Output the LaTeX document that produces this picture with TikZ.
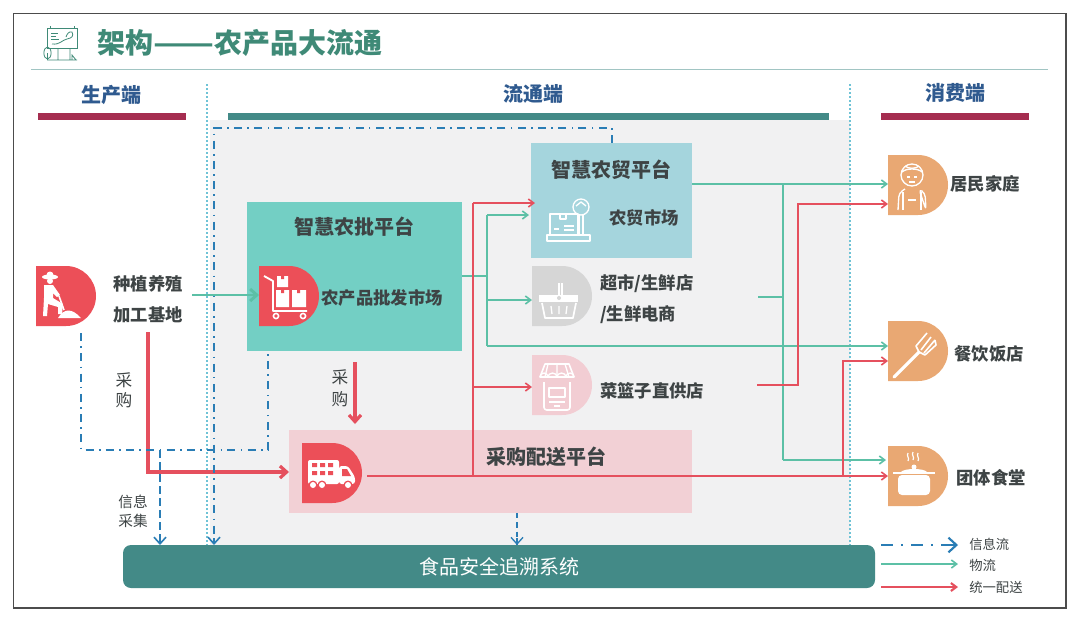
\documentclass[tikz,border=0pt]{standalone}
\usepackage{fontspec}
\usepackage{graphicx}
\setmainfont{Noto Sans CJK SC}
\usetikzlibrary{arrows.meta,fit,calc}
\definecolor{teal1}{HTML}{438A87}
\definecolor{titlec}{HTML}{3F8A77}
\definecolor{wine}{HTML}{A52D50}
\definecolor{navy}{HTML}{2F5A8F}
\definecolor{mint}{HTML}{5CC0A6}
\definecolor{redl}{HTML}{E5505E}
\definecolor{bluel}{HTML}{2A7DB5}
\definecolor{dot}{HTML}{6FC3D6}
\definecolor{redD}{HTML}{EC4F58}
\definecolor{orangeD}{HTML}{E9A873}
\definecolor{greyD}{HTML}{D6D6D6}
\definecolor{pinkD}{HTML}{F2CDD3}
\definecolor{txt}{HTML}{3E4445}
\definecolor{tradec}{HTML}{A5D5DD}
\definecolor{wholec}{HTML}{73CFC4}
\definecolor{distc}{HTML}{F2D0D5}
\definecolor{band}{HTML}{F1F1F2}
\tikzset{
  areabox/.style={inner sep=0pt,outer sep=0pt,draw=none},
  lbl/.style={text=txt,font=\fontsize{13pt}{15pt}\selectfont\bfseries,inner sep=0pt},
  lblL/.style={lbl,anchor=west},
  head/.style={lbl,font=\fontsize{15pt}{17pt}\selectfont\bfseries},
  sec/.style={text=navy,font=\fontsize{15pt}{17pt}\selectfont\bfseries,inner sep=0pt},
  plain/.style={text=txt,font=\fontsize{12.5pt}{14pt}\selectfont,inner sep=0pt},
  small/.style={text=txt,font=\fontsize{11pt}{13pt}\selectfont,inner sep=0pt},
  tiny/.style={text=txt,font=\fontsize{10pt}{12pt}\selectfont,inner sep=0pt,anchor=west},
  tipg/.style={-{Straight Barb[length=4pt,width=6pt]}},
  greenl/.style={draw=mint,line width=1.2pt},
  greenarrow/.style={greenl,tipg},
  redline/.style={draw=redl,line width=1.2pt},
  redarrow/.style={redline,tipg},
  redthick/.style={draw=redl,line width=2.4pt,-{Straight Barb[length=5pt,width=9pt]}},
  infoflow/.style={draw=bluel,line width=1.2pt,dash pattern=on 6pt off 4pt on 1.2pt off 4pt},
  infodash/.style={draw=bluel,line width=1.2pt,dash pattern=on 6pt off 3pt},
  infotip/.style={-{Straight Barb[length=5pt,width=9pt]}},
  divider/.style={draw=dot,line width=.8pt,dash pattern=on 1.5pt off 1.5pt},
  ico/.style={draw=white,line width=1pt,fill=none,line join=round},
}
\newcommand{\dsh}[4]{% name, x, y, colour
  \path[fill=#4] (#2,#3) -- ++(30,0) arc[start angle=-90,end angle=90,radius=30] -- ++(-30,0) -- cycle;
  \node[areabox,fit={(#2,#3)(#2+60,#3+60)}] (#1) {};
}
\begin{document}
\begin{tikzpicture}[x=0.75pt,y=-0.75pt]
\useasboundingbox (0,0) rectangle (1080,622);
\fill[white] (0,0) rectangle (1080,622);
\draw[draw=black!70,line width=.9pt] (13.5,13.5) rectangle (1066,608);
% title
\node[anchor=west,inner sep=0pt,text=titlec,font=\fontsize{21pt}{24pt}\selectfont\bfseries] (title) at (97,43) {架构\scalebox{1.27}[1]{——}农产品大流通};
\draw[draw=teal1!50,line width=.9pt] (31,69.5) -- (1048,69.5);
\draw[titlec,line width=.6pt] (47,28) rectangle (77,48);
\draw[titlec,line width=.6pt] (51,33) -- (58,33) (51,36) -- (56,36) (51,39) -- (59,39);
\draw[titlec,line width=.6pt] (52,44) .. controls (60,45) and (62,40) .. (67,39) .. controls (72,38) and (74,36) .. (72,32) .. controls (69,31) and (67,34) .. (66,37);
\draw[titlec,line width=.6pt] (50,28) -- (50,25.5) (74,28) -- (74,25.5);
\draw[titlec,line width=.6pt] (47,60) -- (77,60) (58,48) -- (58,60) (70,48) -- (70,60) (72,60) -- (72,55) -- (76,60);
\draw[titlec,line width=.6pt] (47.5,53) ellipse [x radius=3.6,y radius=6];
\draw[titlec,line width=.6pt] (47.5,53) -- (47.5,60);
% grey band
\fill[band] (210,120) rectangle (850,545);
% section headers
\node[sec] (hprod) at (111,95) {生产端};
\node[sec] (hcirc) at (533,94) {流通端};
\node[sec] (hcons) at (955,93) {消费端};
\fill[wine] (38,113) rectangle (186,119.5);
\fill[teal1] (228,113) rectangle (829,119.5);
\fill[wine] (881,113) rectangle (1029,119.5);
\coordinate (div1a) at (207,84); \coordinate (div1b) at (207,545);
\coordinate (div2a) at (850,84); \coordinate (div2b) at (850,545);
\draw[divider] (div1a) -- (div1b);
\draw[divider] (div2a) -- (div2b);
% boxes
\node[areabox,fill=distc,fit={(289,430)(692,513)}] (dist) {};
\node[areabox,fill=tradec,fit={(531,143)(692,258)}] (trade) {};
\node[areabox,fill=wholec,fit={(247,202)(462,351)}] (whole) {};
\node[areabox,fill=teal1,rounded corners=6pt,fit={(123,545)(875,588)}] (trace) {};
\node[inner sep=0pt,text=white,font=\fontsize{15pt}{17pt}\selectfont] (tracet) at (499,567) {食品安全追溯系统};
% D shapes
\dsh{farmer}{36}{266}{redD}
\dsh{cart}{259}{266}{redD}
\dsh{basket}{532}{266}{greyD}
\dsh{shop}{532}{355}{pinkD}
\dsh{truck}{302}{443}{redD}
\dsh{home}{888}{155}{orangeD}
\dsh{rest}{888}{321}{orangeD}
\dsh{canteen}{888}{446}{orangeD}
% farmer icon
\begin{scope}[shift={(36,266)}]
  \fill[white] (14,11) ellipse [x radius=8,y radius=2.5];
  \fill[white] (14,9) circle (3.5);
  \fill[white] (14,15) circle (3);
  \fill[white] (8,19) -- (17,19) -- (24,29) -- (21,31) -- (17,27) -- (17,32) -- (27,38) -- (26,48) -- (22,48) -- (22,41) -- (12,38) -- (11,50) -- (7,50) -- (8,32) -- cycle;
  \draw[white,line width=1.2pt] (23,30) -- (28,44);
  \fill[white] (22,52) .. controls (28,42) and (36,42) .. (45,52) -- cycle;
\end{scope}
% cart icon
\begin{scope}[shift={(259,266)}]
  \draw[ico,line width=1.4pt] (5,10) -- (14,15) -- (14,45) -- (48,45);
  \draw[ico,line width=1.2pt] (17,50) circle (2.6) (44,50) circle (2.6);
  \fill[white] (18,10) rectangle (29,21) (17,24) rectangle (30,41) (33,24) rectangle (47,41);
  \fill[redD] (22,10) rectangle (25,13) (22,24) rectangle (25,27) (38,24) rectangle (41,27);
\end{scope}
% scale icon
\draw[ico] (547,235) rectangle (590,241);
\draw[ico] (550,214) rectangle (578,235);
\draw[ico] (560,214) -- (560,219) -- (566,219) -- (566,214);
\draw[ico] (554,229) -- (559,229) (564,226) -- (574,226) (564,230) -- (574,230);
\draw[ico] (581,207) circle (8);
\draw[ico] (579,215) -- (579,235) (583,215) -- (583,235);
\draw[ico] (576,206) -- (581,202) -- (586,206);
% basket icon
\begin{scope}[shift={(532,266)}]
  \fill[white] (7,29) rectangle (46,36);
  \draw[ico] (27,17) -- (27,29) (30,17) -- (30,29);
  \draw[ico,line width=1.3pt] (10,37) -- (13,52) -- (41,52) -- (44,37);
  \draw[ico] (19,40) -- (20,48) (27,40) -- (27,48) (35,40) -- (34,48);
  \fill[greyD] (27,32) circle (2);
\end{scope}
% shop icon
\begin{scope}[shift={(532,355)}]
  \draw[ico,line width=1.2pt] (13,9) -- (37,9) -- (42,22) -- (8,22) -- cycle;
  \draw[ico] (16,9) -- (13,22) (25,9) -- (25,22) (33,9) -- (37,22);
  \draw[ico] (8,22) arc[start angle=180,end angle=0,x radius=4,y radius=-4] (16,22) arc[start angle=180,end angle=0,x radius=4.5,y radius=-4] (25,22) arc[start angle=180,end angle=0,x radius=4.5,y radius=-4] (34,22) arc[start angle=180,end angle=0,x radius=4,y radius=-4];
  \draw[ico,line width=1.2pt,rounded corners=2pt] (12,27) -- (12,55) -- (38,55) -- (38,27);
  \draw[ico] (17,33) rectangle (33,42) (17,47) -- (33,47) (22,51) -- (28,51);
\end{scope}
% truck icon
\begin{scope}[shift={(302,443)}]
  \fill[white,rounded corners=1.5pt] (6,17) rectangle (37,41);
  \fill[white,rounded corners=2pt] (37,23) -- (46,23) -- (53,34) -- (53,41) -- (37,41) -- cycle;
  \foreach \xa in {10,18,26} {\fill[redD] (\xa,20) rectangle ++(5,4) (\xa,28) rectangle ++(5,4);}
  \fill[redD] (40,26) -- (45,26) -- (49,33) -- (40,33) -- cycle;
  \foreach \xa in {11,20,46} {\fill[redD] (\xa,42) circle (4.5); \fill[white] (\xa,42) circle (3);}
\end{scope}
% chef icon
\begin{scope}[shift={(888,155)}]
  \draw[ico] (24,20) circle (11);
  \draw[ico] (14,17) .. controls (18,13) and (30,13) .. (34,17);
  \draw[ico] (17,11) .. controls (20,14) and (28,14) .. (31,11);
  \draw[ico] (19,22) -- (22,22) (26,22) -- (29,22) (21,27) -- (27,27);
  \draw[ico,rounded corners=3pt] (10,55) -- (11,38) -- (17,34) (31,34) -- (37,38) -- (38,55) -- cycle;
  \draw[ico] (15,37) -- (15,55) (33,37) -- (33,55) (20,45) -- (28,45);
\end{scope}
% fork icon
\begin{scope}[shift={(888,321)}]
  \draw[white,line width=2.4pt,line cap=round] (6,56) -- (31,31);
  \draw[ico,line width=1.2pt] (31,31) -- (28,25) -- (39,12) (33,29) -- (43,16) (36,32) -- (47,19) (37,34) -- (48,24) -- (47,19);
  \draw[ico,line width=1.2pt] (31,31) -- (37,34);
\end{scope}
% pot icon
\begin{scope}[shift={(888,446)}]
  \draw[ico,line width=.9pt] (20,7) .. controls (18,10) and (22,12) .. (20,15) (25,6) .. controls (23,9) and (27,11) .. (25,14) (30,7) .. controls (28,10) and (32,12) .. (30,15);
  \fill[white,rounded corners=3pt] (10,29) rectangle (42,49);
  \fill[white] (13,26) .. controls (16,22) and (36,22) .. (39,26) -- cycle;
  \fill[white] (26,21) circle (2.5);
  \draw[white,line width=1.2pt] (5,27) -- (47,27);
\end{scope}
% labels
\node[lbl] (ltop) at (148,284) {种植养殖};
\node[lbl] (lbot) at (148,315) {加工基地};
\node[head] (whead) at (354,227) {智慧农批平台};
\node[lbl] (wsub) at (382,298) {农产品批发市场};
\node[head] (thead) at (611,170) {智慧农贸平台};
\node[lbl] (tsub) at (644,218) {农贸市场};
\node[lblL] (b1) at (600,284) {超市/生鲜店};
\node[lblL] (b2) at (600,315) {/生鲜电商};
\node[lblL] (s1) at (600,391) {菜篮子直供店};
\node[head] (dhead) at (546,457) {采购配送平台};
\node[lbl] (hm) at (985,184) {居民家庭};
\node[lbl] (rs) at (989,354) {餐饮饭店};
\node[lbl] (cn) at (991,478) {团体食堂};
\node[plain] (c1) at (124,380) {采};
\node[plain] (c2) at (124,400) {购};
\node[plain] (c3) at (340,377) {采};
\node[plain] (c4) at (340,399) {购};
\node[small] (x1) at (133,502) {信息};
\node[small] (x2) at (133,521) {采集};
% green flows
\coordinate (fstart) at (192,295);
\coordinate (g1) at (487,276);
\coordinate (g1t) at (487,215);
\coordinate (g1m) at (487,300);
\coordinate (g1b) at (487,346);
\coordinate (g2) at (783,184);
\coordinate (g2m) at (783,297);
\coordinate (g2b) at (783,460);
\coordinate (gsup) at (758,297);
\draw[mint,line width=2.2pt,-{Straight Barb[length=5pt,width=9pt]}] (fstart) -- (fstart -| cart.west);
\draw[mint,line width=2pt] (whole.east |- g1) -- (g1);
\draw[greenl] (g1t) -- (g1b);
\draw[greenarrow] (g1t) -- ($(g1t -| trade.west)+(-2,0)$);
\draw[greenarrow] (g1m) -- (g1m -| basket.west);
\draw[greenarrow] (g1b) -- (g1b -| rest.west);
\draw[greenarrow] (trade.east |- g2) -- (g2 -| home.west);
\draw[greenl] (g2) -- (g2b);
\draw[greenl] (gsup) -- (g2m);
\draw[greenarrow] (g2b) -- ($(g2b -| canteen.west)+(-2,0)$);
% red flows
\coordinate (r1) at (473,203);
\coordinate (r1m) at (473,387);
\coordinate (r1b) at (473,476);
\coordinate (r2s) at (367,476);
\coordinate (r3s) at (757,385);
\coordinate (r3a) at (798,385);
\coordinate (r3b) at (798,204);
\coordinate (r4a) at (843,476);
\coordinate (r4b) at (843,361);
\draw[redarrow] (r2s) -- (r2s -| canteen.west);
\draw[redline] (r1b) -- (r1);
\draw[redarrow] (r1) -- ($(r1 -| trade.west)+(4,0)$);
\draw[redarrow] (r1m) -- (r1m -| shop.west);
\draw[redarrow] (r3s) -- (r3a) -- (r3b) -- (r3b -| home.west);
\draw[redarrow] (r4a) -- (r4b) -- (r4b -| rest.west);
\coordinate (p1) at (148,332);
\coordinate (p2) at (148,472);
\coordinate (p3) at (355,362);
\coordinate (p4) at (355,424);
\draw[redthick] (p1) -- (p2) -- (p2 -| dist.west);
\draw[redthick] (p3) -- (p4);
% info flows
\coordinate (i1) at (81,333);
\coordinate (i2) at (81,450);
\coordinate (i3) at (268,450);
\coordinate (i4) at (268,354);
\coordinate (i5) at (160,450);
\coordinate (i6) at (214,128);
\coordinate (i7) at (612,128);
\coordinate (i8) at (517,513);
\draw[infoflow] (i1) -- (i2) -- (i3) -- (i4);
\draw[infodash] (i5) -- (i5 |- trace.north);
\draw[draw=bluel,line width=1.2pt,infotip] (160,538) -- (i5 |- trace.north);
\draw[infoflow] (i7 |- trade.north) -- (i7) -- (i6) -- (i6 |- trace.north);
\draw[draw=bluel,line width=1.2pt,infotip] (214,538) -- (i6 |- trace.north);
\draw[infodash,dash pattern=on 4pt off 3pt] (i8) -- (i8 |- trace.north);
\draw[draw=bluel,line width=1pt,infotip] (517,538) -- (i8 |- trace.north);
% legend
\coordinate (la) at (881,545); \coordinate (lb) at (958,545);
\coordinate (lc) at (881,564); \coordinate (ld) at (958,564);
\coordinate (le) at (881,587); \coordinate (lf) at (958,587);
\draw[infoflow,line width=1.6pt,dash pattern=on 9pt off 6pt on 1.5pt off 6pt] (la) -- (lb);
\draw[draw=bluel,line width=1.6pt,-{Straight Barb[length=6pt,width=11pt]}] (948,545) -- (lb);
\draw[greenarrow] (lc) -- (ld);
\draw[redarrow,line width=1.6pt] (le) -- (lf);
\node[tiny] (k1) at (969,544) {信息流};
\node[tiny] (k2) at (969,565) {物流};
\node[tiny] (k3) at (969,587) {统一配送};
\end{tikzpicture}
\end{document}
